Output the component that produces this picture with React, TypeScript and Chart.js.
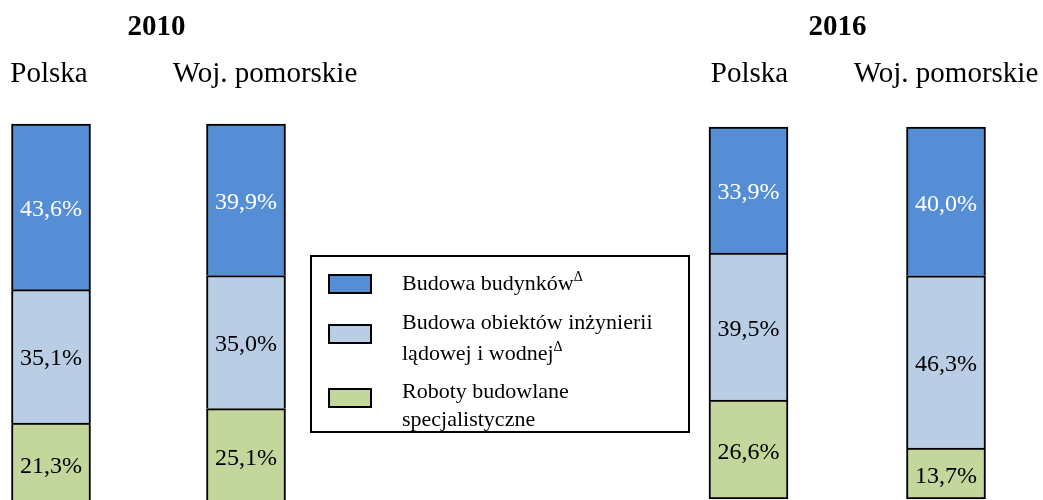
import React, { useEffect, useRef } from "react";
import { Chart, registerables } from "chart.js";

Chart.register(...registerables);

const years = ["2010", "2016"];
const regions = ["Polska", "Woj. pomorskie"];
const seriesNames = [
  "Budowa budynków",
  "Budowa obiektów inżynierii lądowej i wodnej",
  "Roboty budowlane specjalistyczne",
];
const budynki2010 = [43.6, 39.9];
const inzynieria2010 = [35.1, 35.0];
const specjalistyczne2010 = [21.3, 25.1];
const budynki2016 = [33.9, 40.0];
const inzynieria2016 = [39.5, 46.3];
const specjalistyczne2016 = [26.6, 13.7];

const BLUE = "#558ED5";
const LIGHT = "#B9CDE5";
const GREEN = "#C3D69B";
const FONT = '"Liberation Serif", "Times New Roman", serif';
const LABEL_SIZE = 24;

const fmt = (v: number) => v.toFixed(1).replace(".", ",") + "%";

const labelPlugin = {
  id: "segLabels",
  afterDatasetsDraw(chart: any) {
    const ctx = chart.ctx;
    ctx.save();
    ctx.font = `${LABEL_SIZE}px ${FONT}`;
    ctx.textAlign = "center";
    ctx.textBaseline = "alphabetic";
    chart.data.datasets.forEach((ds: any, di: number) => {
      const meta = chart.getDatasetMeta(di);
      meta.data.forEach((el: any, i: number) => {
        const { x, y, base } = el.getProps(["x", "y", "base"], true);
        const cy = (y + base) / 2;
        ctx.fillStyle = ds.labelColor;
        ctx.fillText(fmt(ds.data[i]), x, cy + 0.338 * LABEL_SIZE + 1);
      });
    });
    ctx.restore();
  },
};

function makeConfig(
  bud: number[],
  inz: number[],
  spec: number[],
  pad: { left: number; right: number; top: number; bottom: number }
): any {
  const common = {
    borderColor: "#000000",
    borderWidth: 2,
    barThickness: 79,
    clip: false,
  };
  return {
    type: "bar",
    data: {
      labels: regions,
      datasets: [
        { ...common, label: seriesNames[2], data: spec, backgroundColor: GREEN, labelColor: "#000000", borderSkipped: false },
        { ...common, label: seriesNames[1], data: inz, backgroundColor: LIGHT, labelColor: "#000000" },
        { ...common, label: seriesNames[0], data: bud, backgroundColor: BLUE, labelColor: "#FFFFFF" },
      ],
    },
    options: {
      responsive: false,
      animation: false,
      layout: { padding: pad },
      scales: {
        x: { stacked: true, display: false, offset: false },
        y: { stacked: true, display: false, min: 0, max: 100 },
      },
      plugins: { legend: { display: false }, tooltip: { enabled: false } },
    },
    plugins: [labelPlugin],
  };
}

const textLine = (text: React.ReactNode, left: number, baseline: number, size: number, extra: any = {}) => {
  const lh = size * 1.3;
  const baseOff = (lh - size * 1.107) / 2 + size * 0.891;
  const top = baseline - baseOff;
  return (
    <div
      style={{
        position: "absolute",
        left,
        top,
        fontFamily: FONT,
        fontSize: size,
        lineHeight: `${lh}px`,
        whiteSpace: "nowrap",
        color: "#000",
        ...extra,
      }}
    >
      {text}
    </div>
  );
};

const centered = (text: string, cx: number, baseline: number, size: number, bold = false) =>
  textLine(text, cx - 200, baseline, size, { width: 400, textAlign: "center", fontWeight: bold ? "bold" : "normal" });

const legendLine = (text: React.ReactNode, baseline: number) => textLine(text, 402, baseline, 22);

export default function App() {
  const ref1 = useRef<HTMLCanvasElement>(null);
  const ref2 = useRef<HTMLCanvasElement>(null);

  useEffect(() => {
    const c1 = new Chart(
      ref1.current as HTMLCanvasElement,
      makeConfig(budynki2010, inzynieria2010, specjalistyczne2010, { left: 51, right: 1043 - 246, top: 124, bottom: 6 })
    );
    const c2 = new Chart(
      ref2.current as HTMLCanvasElement,
      makeConfig(budynki2016, inzynieria2016, specjalistyczne2016, { left: 748.5, right: 1043 - 946, top: 127, bottom: 11 })
    );
    return () => {
      c1.destroy();
      c2.destroy();
    };
  }, []);

  const sup = (t: string) => (
    <>
      {t}
      <span style={{ fontSize: 14, position: "relative", top: -9 }}>Δ</span>
    </>
  );

  const swatch = (top: number, color: string) => (
    <div
      style={{
        position: "absolute",
        left: 328,
        top,
        width: 44,
        height: 20,
        boxSizing: "border-box",
        border: "2px solid #000",
        background: color,
      }}
    />
  );

  return (
    <div
      style={{
        position: "fixed",
        left: 0,
        top: 0,
        width: 1043,
        height: 500,
        overflow: "hidden",
        background: "#FFFFFF",
      }}
    >
      <canvas ref={ref1} width={1043} height={510} style={{ position: "absolute", left: 0, top: 0 }} />
      <canvas ref={ref2} width={1043} height={510} style={{ position: "absolute", left: 0, top: 0 }} />

      {centered(years[0], 156.5, 35.5, 29, true)}
      {centered(years[1], 837.5, 35.5, 29, true)}
      {centered(regions[0], 49, 83, 29)}
      {centered(regions[1], 265, 83, 29)}
      {centered(regions[0], 749.5, 83, 29)}
      {centered(regions[1], 946, 83, 29)}

      <div
        style={{
          position: "absolute",
          left: 310,
          top: 255,
          width: 380,
          height: 178,
          boxSizing: "border-box",
          border: "2px solid #000",
        }}
      />
      {swatch(274, BLUE)}
      {swatch(324, LIGHT)}
      {swatch(388, GREEN)}
      {legendLine(sup("Budowa budynków"), 291)}
      {legendLine("Budowa obiektów inżynierii", 330)}
      {legendLine(sup("lądowej i wodnej"), 361)}
      {legendLine("Roboty budowlane", 399)}
      {legendLine("specjalistyczne", 427)}
    </div>
  );
}
